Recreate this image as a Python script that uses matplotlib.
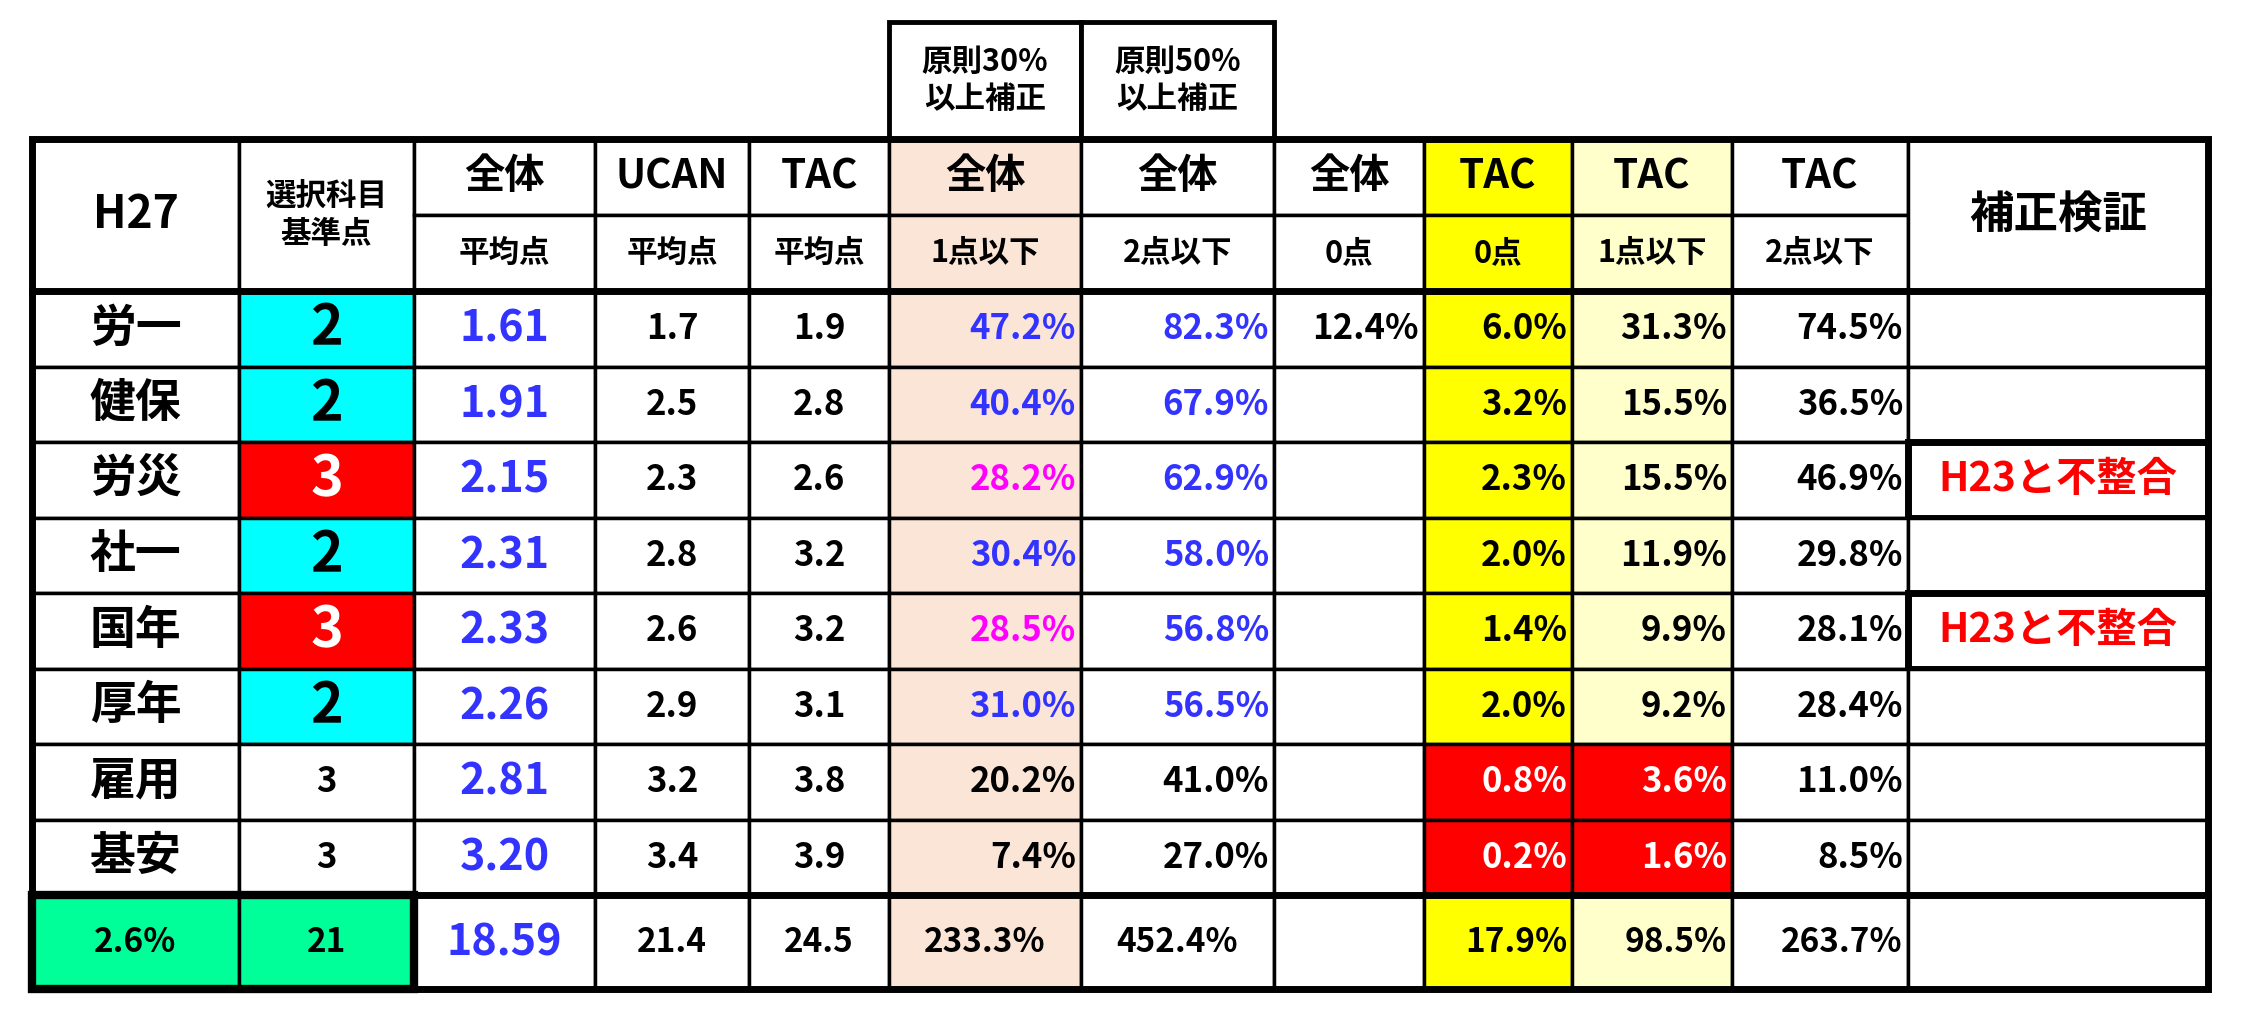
import matplotlib.pyplot as plt
from matplotlib.patches import Rectangle

plt.rcParams['font.family'] = ['Noto Sans CJK JP', 'DejaVu Sans']

subjects = ["労一", "健保", "労災", "社一", "国年", "厚年", "雇用", "基安"]
base_pts = ["2", "2", "3", "2", "3", "2", "3", "3"]
avg_all = ["1.61", "1.91", "2.15", "2.31", "2.33", "2.26", "2.81", "3.20"]
avg_ucan = ["1.7", "2.5", "2.3", "2.8", "2.6", "2.9", "3.2", "3.4"]
avg_tac = ["1.9", "2.8", "2.6", "3.2", "3.2", "3.1", "3.8", "3.9"]
all_le1 = ["47.2%", "40.4%", "28.2%", "30.4%", "28.5%", "31.0%", "20.2%", "7.4%"]
all_le2 = ["82.3%", "67.9%", "62.9%", "58.0%", "56.8%", "56.5%", "41.0%", "27.0%"]
all_0 = ["12.4%", "", "", "", "", "", "", ""]
tac_0 = ["6.0%", "3.2%", "2.3%", "2.0%", "1.4%", "2.0%", "0.8%", "0.2%"]
tac_le1 = ["31.3%", "15.5%", "15.5%", "11.9%", "9.9%", "9.2%", "3.6%", "1.6%"]
tac_le2 = ["74.5%", "36.5%", "46.9%", "29.8%", "28.1%", "28.4%", "11.0%", "8.5%"]
check = ["", "", "H23と不整合", "", "H23と不整合", "", "", ""]
totals = ["2.6%", "21", "18.59", "21.4", "24.5", "233.3%", "452.4%", "", "17.9%", "98.5%", "263.7%", ""]

head_top = ["全体", "UCAN", "TAC", "全体", "全体", "全体", "TAC", "TAC", "TAC"]
head_bot = ["平均点", "平均点", "平均点", "1点以下", "2点以下", "0点", "0点", "1点以下", "2点以下"]

xs = [32, 239, 414, 595, 749, 889, 1081, 1274, 1424, 1572, 1732, 1908, 2208]
y_top, y_head, y_mid, y_hb = 22, 139, 215, 291
rh = 75.5
y_tot = y_hb + 8 * rh
y_end = 989

BLUE, MAG, RED = "#3333FF", "#FF00FF", "#FF0000"
PEACH, YEL, LYEL = "#FBE5D6", "#FFFF00", "#FFFFCC"
CYAN, GREEN = "#00FFFF", "#00FF99"

fig = plt.figure(figsize=(22.47, 10.24), dpi=100)
ax = fig.add_axes([0, 0, 1, 1])
ax.set_xlim(0, 2247)
ax.set_ylim(1024, 0)
ax.axis('off')


def cell(c, y0, y1, text="", fc="white", color="black", size=26, ha="center", lw=2.5):
    x0, x1 = xs[c], xs[c + 1]
    ax.add_patch(Rectangle((x0, y0), x1 - x0, y1 - y0, fc=fc, ec="black", lw=lw))
    if text:
        tx = {"center": (x0 + x1) / 2, "right": x1 - 5, "left": x0 + 6}[ha]
        ax.text(tx, (y0 + y1) / 2, text, ha=ha, va="center", fontsize=size,
                color=color, fontweight="bold")


# top caption boxes
cell(5, y_top, y_head, "原則30%\n以上補正", size=22, lw=3.5)
cell(6, y_top, y_head, "原則50%\n以上補正", size=22, lw=3.5)

# header
cell(0, y_head, y_hb, "H27", size=32)
cell(1, y_head, y_hb, "選択科目\n基準点", size=22)
head_fc = ["white", "white", "white", PEACH, "white", "white", YEL, LYEL, "white"]
for i in range(9):
    cell(i + 2, y_head, y_mid, head_top[i], fc=head_fc[i], size=29)
    cell(i + 2, y_mid, y_hb, head_bot[i], fc=head_fc[i], size=22)
cell(11, y_head, y_hb, "補正検証", size=32)

# data rows
for r in range(8):
    y0, y1 = y_hb + r * rh, y_hb + (r + 1) * rh
    cell(0, y0, y1, subjects[r], size=33)
    if r < 6:
        red = base_pts[r] == "3"
        cell(1, y0, y1, base_pts[r], fc=RED if red else CYAN,
             color="white" if red else "black", size=40)
    else:
        cell(1, y0, y1, base_pts[r], size=25)
    cell(2, y0, y1, avg_all[r], color=BLUE, size=31)
    cell(3, y0, y1, avg_ucan[r], size=25)
    cell(4, y0, y1, avg_tac[r], size=25)
    c1 = float(all_le1[r][:-1])
    col = MAG if c1 < 30 and r < 6 else (BLUE if r < 6 else "black")
    cell(5, y0, y1, all_le1[r], fc=PEACH, color=col, size=25, ha="right")
    cell(6, y0, y1, all_le2[r], color=BLUE if r < 6 else "black", size=25, ha="right")
    cell(7, y0, y1, all_0[r], size=25, ha="right")
    low = r >= 6
    cell(8, y0, y1, tac_0[r], fc=RED if low else YEL,
         color="white" if low else "black", size=25, ha="right")
    cell(9, y0, y1, tac_le1[r], fc=RED if low else LYEL,
         color="white" if low else "black", size=25, ha="right")
    cell(10, y0, y1, tac_le2[r], size=25, ha="right")
    if check[r]:
        cell(11, y0, y1, check[r], color=RED, size=29, lw=5)
    else:
        cell(11, y0, y1)

# totals row
tot_fc = [GREEN, GREEN, "white", "white", "white", PEACH, "white", "white", YEL, LYEL, "white", "white"]
tot_ha = ["center"] * 8 + ["right", "right", "right", "center"]
for c in range(12):
    cell(c, y_tot, y_end, totals[c], fc=tot_fc[c], color=BLUE if c == 2 else "black",
         size=31 if c == 2 else 24, ha=tot_ha[c])

# thick lines
ax.add_patch(Rectangle((xs[0], y_head), xs[-1] - xs[0], y_end - y_head, fill=False, ec="black", lw=5))
ax.plot([xs[0], xs[-1]], [y_hb, y_hb], color="black", lw=5)
ax.plot([xs[0], xs[-1]], [y_tot, y_tot], color="black", lw=5)
ax.add_patch(Rectangle((xs[0], y_tot), xs[2] - xs[0], y_end - y_tot, fill=False, ec="black", lw=6))

fig.savefig("out.png", dpi=100)
